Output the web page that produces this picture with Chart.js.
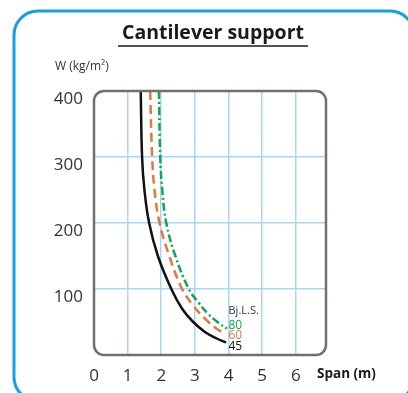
<!DOCTYPE html>
<html>
<head>
<meta charset="utf-8">
<script src="https://cdn.jsdelivr.net/npm/chart.js@4"></script>
<style>
  html, body { margin: 0; padding: 0; background: #fff; }
  #wrap { width: 408px; height: 393px; }
</style>
</head>
<body>
<div id="wrap"><canvas id="spanChart" width="408" height="393"></canvas></div>
<script>
// allowable load W (kg/m2) against cantilever span (m), per grade
const grades = ['45', '60', '80'];
const span45 = [1.39, 1.43, 1.5, 1.64, 1.9, 2.3, 2.62, 2.95, 3.3, 3.65, 3.93];
const load45 = [400, 300, 250, 200, 150, 100, 70, 50, 35, 25, 19];
const span60 = [1.67, 1.73, 1.8, 1.95, 2.24, 2.62, 2.95, 3.3, 3.62, 3.9];
const load60 = [400, 300, 250, 200, 150, 100, 75, 55, 41, 32];
const span80 = [1.93, 1.97, 2.03, 2.15, 2.42, 2.82, 3.1, 3.4, 3.7, 3.95];
const load80 = [400, 300, 250, 200, 150, 100, 80, 62, 49, 40];
const xTicks = [0, 1, 2, 3, 4, 5, 6];
const yTicks = [100, 200, 300, 400];

const FONT = '"Open Sans", "DejaVu Sans", sans-serif';
const gridBlue = '#a9d6f3';

function points(xs, ys) {
  return xs.map((x, i) => ({ x: x, y: ys[i] }));
}

const frame = {
  id: 'frame',
  beforeDraw(chart) {
    const c = chart.ctx;
    c.save();
    c.fillStyle = '#fff';
    c.fillRect(0, 0, chart.width, chart.height);
    c.strokeStyle = '#14a1e1';
    c.lineWidth = 3;
    c.beginPath();
    c.roundRect(14, 11, 400, 390, 24);
    c.stroke();
    c.restore();
  },
  afterDraw(chart) {
    const c = chart.ctx;
    const a = chart.chartArea;
    const xs = chart.scales.x;
    const w = a.right - a.left;
    const h = a.bottom - a.top;
    c.save();
    // blank the grid ends that poke past the rounded corners
    c.fillStyle = '#fff';
    c.beginPath();
    c.rect(a.left - 2, a.top - 2, w + 4, h + 4);
    c.roundRect(a.left, a.top, w, h, 10);
    c.fill('evenodd');
    // plot border
    c.strokeStyle = '#707070';
    c.lineWidth = 2.5;
    c.beginPath();
    c.roundRect(a.left, a.top, w, h, 10);
    c.stroke();

    // heading with underline
    c.fillStyle = '#1a1a1a';
    c.font = 'bold 19.5px ' + FONT;
    c.textAlign = 'center';
    c.textBaseline = 'alphabetic';
    c.fillText('Cantilever support', 213, 39);
    c.strokeStyle = '#1a1a1a';
    c.lineWidth = 1.5;
    c.beginPath();
    c.moveTo(118, 46);
    c.lineTo(308, 46);
    c.stroke();

    // axis captions
    c.fillStyle = '#333';
    c.font = '12px ' + FONT;
    c.textAlign = 'left';
    c.textBaseline = 'middle';
    c.fillText('W (kg/m²)', 55, 67);
    c.fillStyle = '#1a1a1a';
    c.font = 'bold 13.5px ' + FONT;
    c.fillText('Span (m)', 317, 374);

    // grade key beside the curve ends
    const lx = xs.getPixelForValue(4);
    c.font = '11px ' + FONT;
    c.fillStyle = '#333';
    c.fillText('Bj.L.S.', lx, a.bottom - 44);
    const keyColors = ['#111', '#e07a3a', '#10a55a'];
    grades.forEach((g, i) => {
      c.fillStyle = keyColors[i];
      c.font = '12px ' + FONT;
      c.fillText(g, lx, a.bottom - 8.5 - i * 10.5);
    });
    c.restore();
  }
};

const ctx = document.getElementById('spanChart').getContext('2d');
const spanChart = new Chart(ctx, {
  type: 'scatter',
  data: {
    datasets: [{
      label: grades[0],
      data: points(span45, load45),
      borderColor: '#111',
      borderWidth: 2.5,
      showLine: true,
      tension: 0.4,
      pointRadius: 0
    }, {
      label: grades[1],
      data: points(span60, load60),
      borderColor: '#e07a3a',
      borderWidth: 2.5,
      borderDash: [9, 5],
      showLine: true,
      tension: 0.4,
      pointRadius: 0
    }, {
      label: grades[2],
      data: points(span80, load80),
      borderColor: '#10a55a',
      borderWidth: 2.5,
      borderDash: [8, 3, 2, 3],
      showLine: true,
      tension: 0.4,
      pointRadius: 0
    }]
  },
  options: {
    responsive: false,
    animation: false,
    layout: {
      padding: { left: 54, top: 91, right: 82, bottom: 8 }
    },
    scales: {
      x: {
        type: 'linear',
        min: 0,
        max: 6.9,
        afterBuildTicks: function(scale) {
          scale.ticks = xTicks.map(v => ({ value: v }));
        },
        afterFit: function(scale) {
          scale.height = 30;
        },
        border: { display: false },
        grid: { color: gridBlue, lineWidth: 1.5, drawTicks: false, tickLength: 0 },
        ticks: {
          padding: 11,
          color: '#333',
          font: { family: FONT, size: 17 },
          maxRotation: 0
        }
      },
      y: {
        min: 0,
        max: 400,
        afterBuildTicks: function(scale) {
          scale.ticks = yTicks.map(v => ({ value: v }));
        },
        afterFit: function(scale) {
          scale.width = 40;
        },
        border: { display: false },
        grid: { color: gridBlue, lineWidth: 1.5, drawTicks: false, tickLength: 0 },
        ticks: {
          padding: 11,
          labelOffset: 8,
          color: '#333',
          font: { family: FONT, size: 17 }
        }
      }
    },
    plugins: {
      legend: { display: false },
      title: { display: false },
      tooltip: { enabled: false }
    }
  },
  plugins: [frame]
});
</script>
</body>
</html>
